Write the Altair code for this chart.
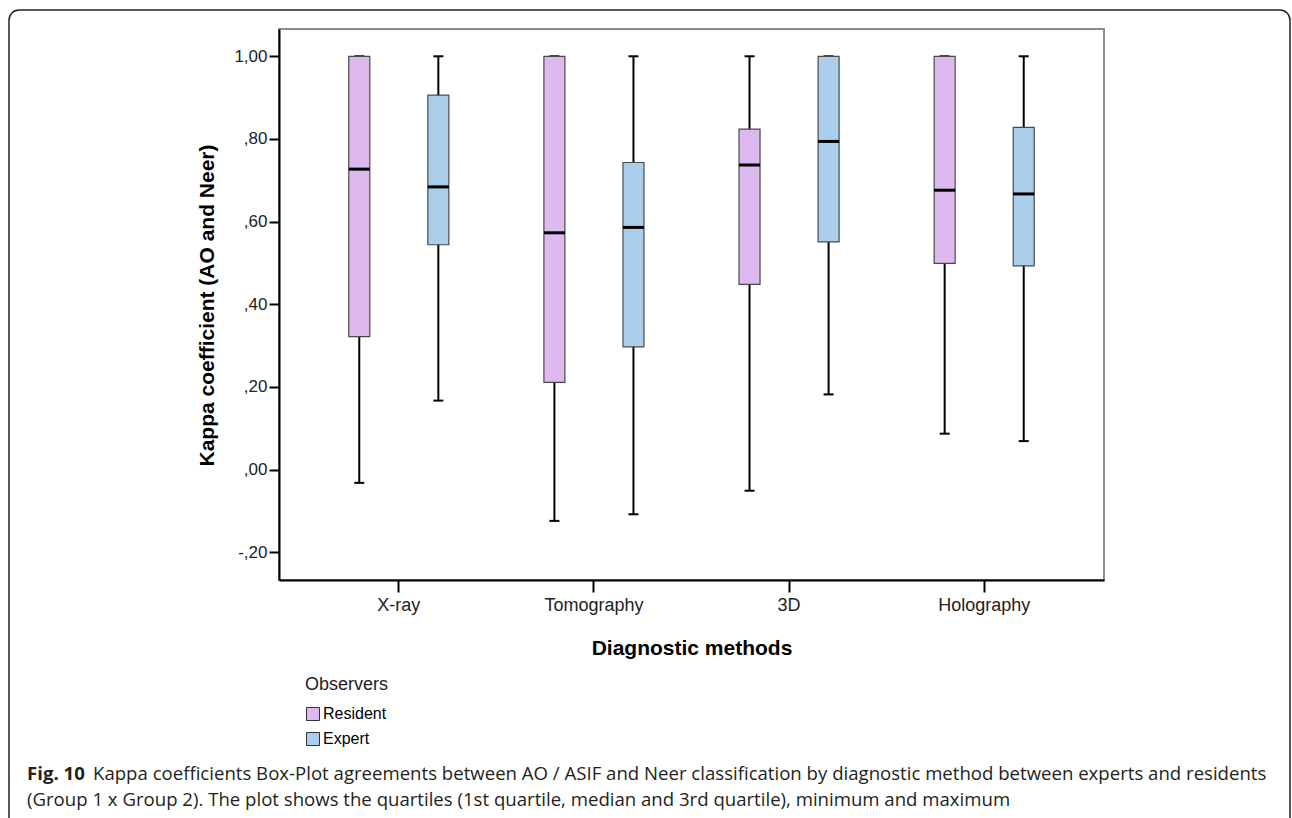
import altair as alt
import pandas as pd

# ---- data ----
methods = ["X-ray", "Tomography", "3D", "Holography"]
observers = ["Resident", "Expert"]
box_method = ["X-ray", "X-ray", "Tomography", "Tomography", "3D", "3D", "Holography", "Holography"]
box_observer = ["Resident", "Expert", "Resident", "Expert", "Resident", "Expert", "Resident", "Expert"]
mins = [-0.032, 0.167, -0.124, -0.108, -0.051, 0.182, 0.087, 0.069]
q1s = [0.322, 0.544, 0.211, 0.297, 0.448, 0.551, 0.499, 0.493]
medians = [0.727, 0.684, 0.573, 0.586, 0.737, 0.794, 0.676, 0.667]
q3s = [1.000, 0.906, 1.000, 0.743, 0.824, 1.000, 1.000, 0.828]
maxs = [1.000, 1.000, 1.000, 1.000, 1.000, 1.000, 1.000, 1.000]
y_ticks = [-0.2, 0.0, 0.2, 0.4, 0.6, 0.8, 1.0]
colors = ["#DEB9F0", "#AACEEC"]

caption_bold = ["Fig. 10"]
caption_line1 = ["Kappa coefficients Box-Plot agreements between AO / ASIF and Neer classification by diagnostic method between experts and residents"]
caption_line2 = ["(Group 1 x Group 2). The plot shows the quartiles (1st quartile, median and 3rd quartile), minimum and maximum"]

df = pd.DataFrame({
    "method": box_method, "observer": box_observer,
    "min": mins, "q1": q1s, "median": medians, "q3": q3s, "max": maxs,
})

ytitle = "Kappa coefficient (AO and Neer)"
yscale = alt.Scale(domain=[-0.267, 1.066], nice=False, zero=False)
yaxis = alt.Axis(
    values=y_ticks,
    labelExpr="replace(replace(replace(format(datum.value, '.2f'), '\u2212', '-'), '0.', '.'), '.', ',')",
    title=ytitle, grid=False, tickSize=10, labelPadding=2,
    labelFontSize=17, titleFontSize=21, titleFontWeight="bold",
    titleX=-72, titleY=276, titleAngle=270, titleAlign="center", titleBaseline="middle",
)

X = alt.X("method:N", sort=methods,
          scale=alt.Scale(paddingInner=0, paddingOuter=0.114),
          axis=alt.Axis(title="Diagnostic methods", labelAngle=0, tickSize=12, labelPadding=4,
                        labelFontSize=18, titleFontSize=21, titleFontWeight="bold",
                        titleY=68, titleBaseline="middle"))
XO = alt.XOffset("observer:N", sort=observers,
                 scale=alt.Scale(paddingInner=0, paddingOuter=0.234))

base = alt.Chart(df)

whisker = base.mark_rule(color="black", strokeWidth=2).encode(
    x=X, xOffset=XO,
    y=alt.Y("min:Q", scale=yscale, axis=yaxis, title=ytitle),
    y2="max:Q",
)
cap_lo = base.mark_tick(color="black", thickness=2, size=10, opacity=1).encode(
    x=X, xOffset=XO, y=alt.Y("min:Q", scale=yscale, title=ytitle))
cap_hi = base.mark_tick(color="black", thickness=2, size=10, opacity=1).encode(
    x=X, xOffset=XO, y=alt.Y("max:Q", scale=yscale, title=ytitle))
box = base.mark_bar(size=21, stroke="#4a4a4a", strokeWidth=1.2, opacity=1).encode(
    x=X, xOffset=XO,
    y=alt.Y("q1:Q", scale=yscale, title=ytitle), y2="q3:Q",
    color=alt.Color("observer:N", sort=observers,
                    scale=alt.Scale(domain=observers, range=colors),
                    legend=alt.Legend(orient="none", legendX=26, legendY=647,
                                      title="Observers", titleFontWeight="normal",
                                      titleFontSize=18, labelFontSize=16,
                                      symbolType="square", symbolSize=169,
                                      symbolStrokeColor="#333333", symbolStrokeWidth=1,
                                      rowPadding=7, titlePadding=12, labelOffset=2)),
)
med = base.mark_tick(color="black", thickness=3, size=21, opacity=1).encode(
    x=X, xOffset=XO, y=alt.Y("median:Q", scale=yscale, title=ytitle))

# caption and figure frame (decoration outside the plot area)
frame = alt.Chart(pd.DataFrame({"k": [0]})).mark_rect(
    fill="transparent", stroke="#222222", strokeWidth=1.5, cornerRadius=10
).encode(x=alt.value(-270), x2=alt.value(1011), y=alt.value(-19), y2=alt.value(811))

cap_font = "Open Sans"
cap_size = 18.6
cap1 = alt.Chart(pd.DataFrame({"t": caption_bold})).mark_text(
    font=cap_font, fontSize=cap_size, fontWeight="bold", align="left", baseline="middle", color="#231f20"
).encode(text="t:N", x=alt.value(-252), y=alt.value(745))
cap2 = alt.Chart(pd.DataFrame({"t": caption_line1})).mark_text(
    font=cap_font, fontSize=cap_size, align="left", baseline="middle", color="#231f20"
).encode(text="t:N", x=alt.value(-186), y=alt.value(745))
cap3 = alt.Chart(pd.DataFrame({"t": caption_line2})).mark_text(
    font=cap_font, fontSize=cap_size, align="left", baseline="middle", color="#231f20"
).encode(text="t:N", x=alt.value(-252), y=alt.value(771))

chart = alt.layer(whisker, cap_lo, cap_hi, box, med, frame, cap1, cap2, cap3).properties(
    width=825, height=551,
    padding={"left": 279, "top": 29, "right": 188, "bottom": 238},
    autosize=alt.AutoSizeParams(type="none"),
    background="white",
).configure_view(
    stroke="#8c8c8c", strokeWidth=2
).configure_axis(
    domainColor="black", domainWidth=2, tickColor="black", tickWidth=2,
    labelFont="Liberation Sans", titleFont="Liberation Sans",
    labelColor="#222222", titleColor="black",
).configure_legend(
    labelFont="Liberation Sans", titleFont="Liberation Sans",
    labelColor="black", titleColor="#222222",
)

chart.save("out.html", embed_options={"renderer": "svg", "actions": False})
